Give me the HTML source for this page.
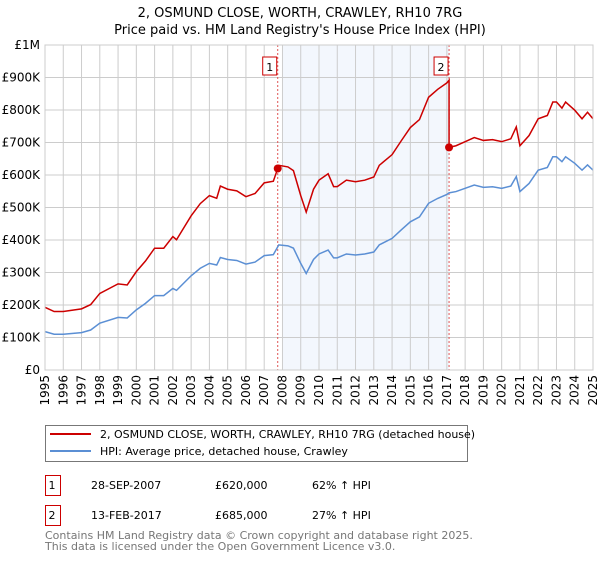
<!DOCTYPE html>
<html><head><meta charset="utf-8"><style>
body{margin:0;background:#fff;font-family:"DejaVu Sans","Liberation Sans",sans-serif}
</style></head><body>
<svg width="600" height="560" xmlns="http://www.w3.org/2000/svg" style="font-family:'DejaVu Sans','Liberation Sans',sans-serif">
<text x="300" y="17" text-anchor="middle" font-size="13">2, OSMUND CLOSE, WORTH, CRAWLEY, RH10 7RG</text>
<text x="300" y="34" text-anchor="middle" font-size="13">Price paid vs. HM Land Registry's House Price Index (HPI)</text>
<g id="plot"></g>
<g>
<rect x="45.5" y="425.5" width="422" height="36" fill="#fff" stroke="#777"/>
<line x1="50" y1="434" x2="91" y2="434" stroke="#cc0000" stroke-width="2"/>
<text x="100" y="438" font-size="11">2, OSMUND CLOSE, WORTH, CRAWLEY, RH10 7RG (detached house)</text>
<line x1="50" y1="451" x2="91" y2="451" stroke="#5b8fd4" stroke-width="2"/>
<text x="100" y="455" font-size="11">HPI: Average price, detached house, Crawley</text>
</g>
<g font-size="11">
<rect x="45.5" y="475.5" width="15" height="20" fill="#fff" stroke="#cc0000"/><text x="52" y="489" text-anchor="middle">1</text>
<text x="91" y="489">28-SEP-2007</text><text x="215" y="489">£620,000</text><text x="312" y="489">62% ↑ HPI</text>
<rect x="45.5" y="505.5" width="15" height="20" fill="#fff" stroke="#cc0000"/><text x="52" y="519" text-anchor="middle">2</text>
<text x="91" y="519">13-FEB-2017</text><text x="215" y="519">£685,000</text><text x="312" y="519">27% ↑ HPI</text>
</g>
<g font-size="11" fill="#777">
<text x="45" y="539">Contains HM Land Registry data © Crown copyright and database right 2025.</text>
<text x="45" y="550">This data is licensed under the Open Government Licence v3.0.</text>
</g>
</svg>
<script>
const hpiYears=[1995,1995.5,1996,1997,1997.5,1998,1999,1999.5,2000,2000.5,2001,2001.5,2002,2002.2,2002.5,2003,2003.5,2004,2004.4,2004.6,2005,2005.5,2006,2006.5,2007,2007.5,2007.8,2008.3,2008.6,2009,2009.3,2009.7,2010,2010.5,2010.8,2011,2011.5,2012,2012.5,2013,2013.3,2014,2014.5,2015,2015.5,2016,2016.5,2017,2017.12,2017.5,2018,2018.5,2019,2019.5,2020,2020.5,2020.8,2021,2021.5,2022,2022.5,2022.8,2023,2023.3,2023.5,2024,2024.4,2024.7,2025];
const hpiValues=[118,110,110,115,123,144,162,160,185,205,229,229,251,245,262,290,313,328,323,346,340,337,326,332,352,355,385,382,375,328,297,340,357,369,345,345,357,354,357,363,385,405,431,456,471,513,528,540,545,549,559,569,562,564,559,566,595,549,574,615,623,656,656,641,656,636,615,631,615];
const saleYears=[2007.74,2017.12];
const salePrices=[620,685];
const yTicks=[0,100,200,300,400,500,600,700,800,900,1000];
const yTickLabels=['£0','£100K','£200K','£300K','£400K','£500K','£600K','£700K','£800K','£900K','£1M'];
const xTicks=[1995,1996,1997,1998,1999,2000,2001,2002,2003,2004,2005,2006,2007,2008,2009,2010,2011,2012,2013,2014,2015,2016,2017,2018,2019,2020,2021,2022,2023,2024,2025];

const L=45,R=593,T=45,B=370;
const X=y=>L+(y-1995)/30*(R-L);
const Y=v=>B-v/1000*(B-T);
const NS='http://www.w3.org/2000/svg';
const g=document.getElementById('plot');
function mk(t,a){const e=document.createElementNS(NS,t);for(const k in a)e.setAttribute(k,a[k]);g.appendChild(e);return e;}
function hpiAt(y){for(let i=1;i<hpiYears.length;i++){if(y<=hpiYears[i]){const t=(y-hpiYears[i-1])/(hpiYears[i]-hpiYears[i-1]);return hpiValues[i-1]+t*(hpiValues[i]-hpiValues[i-1]);}}return hpiValues[hpiValues.length-1];}

const sh=mk('rect',{x:X(Math.ceil(saleYears[0])),y:T,width:X(saleYears[1])-X(Math.ceil(saleYears[0])),height:B-T,fill:'#eef3fc',opacity:0.7});


yTicks.forEach((v,i)=>{
 const l=mk('line',{x1:L,x2:R,y1:Y(v),y2:Y(v),stroke:'#ccc'});
 
 
 const t=mk('text',{x:L-5,y:Y(v)+4,'text-anchor':'end','font-size':12});
 
 
 t.textContent=yTickLabels[i];
});
xTicks.forEach(yr=>{
 const l=mk('line',{x1:X(yr),x2:X(yr),y1:T,y2:B,stroke:'#ccc'});
 
 
 const t=mk('text',{x:0,y:0,'text-anchor':'end','font-size':12,transform:`translate(${X(yr)+4},${B+5}) rotate(-90)`});
 
 
 t.textContent=yr;
});
saleYears.forEach(s=>{
 const l=mk('line',{x1:X(s),x2:X(s),y1:T,y2:B,stroke:'#e05555','stroke-dasharray':'2,2'});
 
 
});
const hp=mk('polyline',{points:hpiYears.map((y,i)=>X(y)+','+Y(hpiValues[i])).join(' '),fill:'none',stroke:'#5b8fd4','stroke-width':1.5});


const f1=salePrices[0]/hpiAt(saleYears[0]), f2=salePrices[1]/hpiAt(saleYears[1]);
let pts=[];
hpiYears.forEach((y,i)=>{ if(y<saleYears[1]) pts.push([y,hpiValues[i]*f1]); });
pts.push([saleYears[1],hpiAt(saleYears[1])*f1]);
pts.push([saleYears[1],salePrices[1]]);
hpiYears.forEach((y,i)=>{ if(y>saleYears[1]) pts.push([y,hpiValues[i]*f2]); });
const rp=mk('polyline',{points:pts.map(p=>X(p[0])+','+Y(p[1])).join(' '),fill:'none',stroke:'#cc0000','stroke-width':1.5});


saleYears.forEach((s,i)=>{
 const c=mk('circle',{cx:X(s),cy:Y(salePrices[i]),r:4,fill:'#cc0000'});
 
 
 const r=mk('rect',{x:X(s)-15,y:57,width:14,height:18,fill:'#fff',stroke:'#cc0000'});
 
 
 const t=mk('text',{x:X(s)-8,y:71,'text-anchor':'middle','font-size':11});
 
 
 t.textContent=i+1;
});
const ax=mk('rect',{x:L,y:T,width:R-L,height:B-T,fill:'none',stroke:'#ccc'});


</script>
</body></html>
